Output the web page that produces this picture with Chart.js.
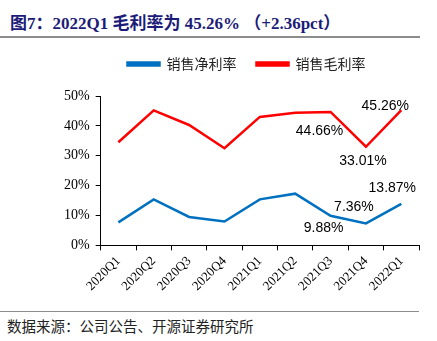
<!DOCTYPE html>
<html>
<head>
<meta charset="utf-8">
<script src="https://cdn.jsdelivr.net/npm/chart.js@4.4.1/dist/chart.umd.min.js"></script>
<style>
  html, body { margin: 0; padding: 0; background: #fff; }
  body { width: 437px; height: 341px; position: relative; overflow: hidden; }
  #title {
    position: absolute; left: 10px; top: 9px;
    font: bold 17px "Liberation Serif", "Noto Sans CJK SC", serif;
    color: #1c1c78; white-space: nowrap;
  }
  #title-rule { position: absolute; left: 0; top: 36px; width: 420px; height: 2px; background: #8c8c8c; }
  #chart-box { position: absolute; left: 0; top: 37px; width: 437px; height: 260px; }
  #foot-rule { position: absolute; left: 0; top: 311px; width: 419px; height: 1px; background: #8c8c8c; }
  #foot {
    position: absolute; left: 7px; top: 315px;
    font: 14.5px "Noto Sans CJK SC", sans-serif; color: #222; white-space: nowrap;
  }
</style>
</head>
<body>
<div id="title">图7：2022Q1 毛利率为 45.26% （+2.36pct）</div>
<div id="title-rule"></div>
<div id="chart-box"><canvas id="chart"></canvas></div>
<div id="foot-rule"></div>
<div id="foot">数据来源：公司公告、开源证券研究所</div>
<script>
  const quarters = ["2020Q1", "2020Q2", "2020Q3", "2020Q4", "2021Q1", "2021Q2", "2021Q3", "2021Q4", "2022Q1"];
  const netMargin = [7.7, 15.4, 9.5, 8.0, 15.4, 17.3, 9.88, 7.36, 13.87];
  const grossMargin = [34.5, 45.2, 40.3, 32.5, 43.0, 44.4, 44.66, 33.01, 45.26];
  const yTicks = [0, 10, 20, 30, 40, 50];

  // which points get a value label, and where the text sits relative to the point
  const labelSpots = {
    0: { 6: [-7, 12], 7: [-12, -16], 8: [-9, -16] },
    1: { 6: [-11, 19], 7: [-3, 14], 8: [-16, -4] },
  };

  const valueLabels = {
    id: "valueLabels",
    afterDatasetsDraw(chart) {
      const ctx = chart.ctx;
      ctx.save();
      ctx.font = '14px "Liberation Sans", sans-serif';
      ctx.fillStyle = "#000";
      ctx.textAlign = "center";
      ctx.textBaseline = "middle";
      chart.data.datasets.forEach((ds, di) => {
        const meta = chart.getDatasetMeta(di);
        const spots = labelSpots[di] || {};
        Object.keys(spots).forEach((i) => {
          const pt = meta.data[i];
          const [dx, dy] = spots[i];
          ctx.fillText(ds.data[i].toFixed(2) + "%", pt.x + dx, pt.y + dy);
        });
      });
      ctx.restore();
    },
  };

  // extra room under the legend, and nudge it a bit to the right
  const legendSpacing = {
    id: "legendSpacing",
    beforeInit(chart) {
      const fit = chart.legend.fit;
      chart.legend.fit = function () {
        fit.bind(chart.legend)();
        this.height += 15;
      };
    },
    afterLayout(chart) {
      chart.legend.left += 8;
      chart.legend.right += 8;
    },
  };

  new Chart(document.getElementById("chart"), {
    type: "line",
    data: {
      labels: quarters,
      datasets: [
        {
          label: "销售净利率",
          data: netMargin,
          borderColor: "#0070c0",
          backgroundColor: "#0070c0",
          borderWidth: 2.5,
          pointRadius: 0,
          tension: 0,
        },
        {
          label: "销售毛利率",
          data: grossMargin,
          borderColor: "#ff0000",
          backgroundColor: "#ff0000",
          borderWidth: 2.5,
          pointRadius: 0,
          tension: 0,
        },
      ],
    },
    options: {
      responsive: true,
      maintainAspectRatio: false,
      animation: false,
      layout: { padding: { left: 58, right: 18, top: 0, bottom: 0 } },
      plugins: {
        legend: {
          position: "top",
          labels: {
            boxWidth: 32,
            boxHeight: 3,
            padding: 20,
            color: "#222",
            font: { family: '"Noto Sans CJK SC", sans-serif', size: 14 },
          },
        },
        title: { display: false },
        tooltip: { enabled: false },
      },
      scales: {
        x: {
          offset: true,
          grid: { offset: true, drawOnChartArea: false, tickLength: 5, color: "#000" },
          border: { color: "#000", width: 1 },
          ticks: {
            minRotation: 45,
            maxRotation: 45,
            color: "#000",
            font: { family: '"Liberation Serif", serif', size: 13 },
          },
        },
        y: {
          min: 0,
          max: 50,
          afterBuildTicks(axis) {
            axis.ticks = yTicks.map((v) => ({ value: v }));
          },
          grid: { drawOnChartArea: false, tickLength: 5, color: "#000" },
          border: { color: "#000", width: 1 },
          ticks: {
            padding: 6,
            color: "#000",
            font: { family: '"Liberation Serif", serif', size: 14 },
            callback: (v) => v + "%",
          },
        },
      },
    },
    plugins: [valueLabels, legendSpacing],
  });
</script>
</body>
</html>
